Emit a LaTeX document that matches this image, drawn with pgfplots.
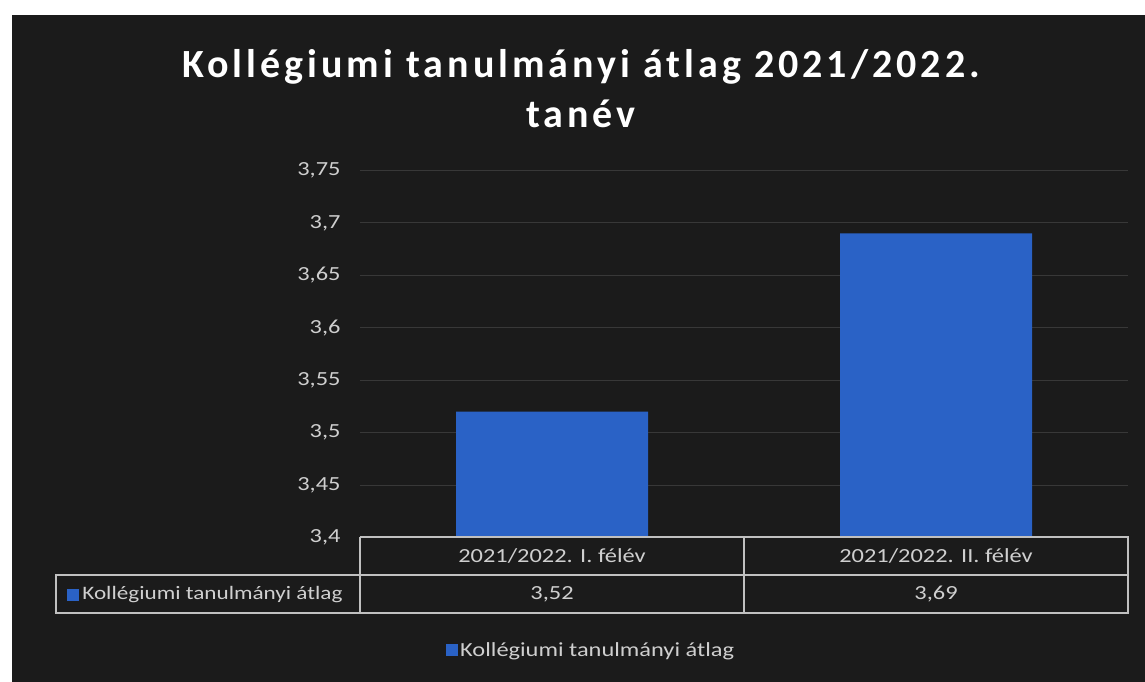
\documentclass[border=0pt]{standalone}
\usepackage{pgfplots}
\pgfplotsset{compat=1.18}
\usepackage{fontspec}
\setmainfont{Carlito}[FakeStretch=1.22]
\newfontfamily\titlefont{Carlito}[LetterSpace=10]
\definecolor{bg}{HTML}{1B1B1B}
\definecolor{barblue}{RGB}{42,98,198}
\definecolor{txt}{HTML}{CFCFCF}
\definecolor{gridc}{HTML}{383838}
\definecolor{tbl}{HTML}{C0C0C0}
\begin{document}
\begin{tikzpicture}[x=1pt,y=1pt]
\fill[white] (0,0) rectangle (1145,682);
\fill[bg] (12,0) rectangle (1145,667);
\node[anchor=base, text=white, font=\titlefont\bfseries\fontsize{40}{48}\selectfont] at (581,604) {Kollégiumi tanulmányi átlag 2021/2022.};
\node[anchor=base, text=white, font=\titlefont\bfseries\fontsize{40}{48}\selectfont] at (581,554) {tanév};
\begin{axis}[
  at={(360pt,144.5pt)}, anchor=south west,
  scale only axis, width=768pt, height=367pt,
  xmin=-0.5, xmax=1.5, ymin=3.4, ymax=3.75,
  ytick={3.4,3.45,3.5,3.55,3.6,3.65,3.7,3.75},
  axis line style={draw=none}, major tick length=0pt,
  ymajorgrids, grid style={gridc, line width=1pt},
  xtick={0,1}, xticklabels={2021/2022. I. félév, 2021/2022. II. félév},
  xticklabel style={anchor=center, yshift=-18.5pt, text=txt},
  yticklabel style={text=txt, xshift=-16pt},
  tick label style={font=\fontsize{20}{24}\selectfont},
  /pgf/number format/use comma, /pgf/number format/assume math mode=true, /pgf/number format/1000 sep={},
  clip=false,
  legend style={at={(0.301,-0.3065)}, anchor=center, draw=none, fill=none, text=txt, font=\fontsize{20}{24}\selectfont},
]
\addplot[ybar, bar width=192pt, fill=barblue, draw=none,
  legend image code/.code={\fill[barblue] (0pt,-6pt) rectangle (12pt,6pt);}] coordinates {(0,3.52) (1,3.69)};
\addlegendentry{Kollégiumi tanulmányi átlag}
\addplot[draw=none, mark=none, forget plot, nodes near coords, point meta=explicit,
  nodes near coords style={text=txt, anchor=center, font=\fontsize{20}{24}\selectfont}]
  coordinates {(0,3.346) [3.52] (1,3.346) [3.69]};
\end{axis}
\draw[tbl, line width=1.4pt] (360,145) -- (1128,145) -- (1128,69) -- (56,69) -- (56,107) -- (1128,107);
\draw[tbl, line width=1.4pt] (360,145) -- (360,69);
\draw[tbl, line width=1.4pt] (744,145) -- (744,69);
\node[anchor=west, text=txt, font=\fontsize{19}{23}\selectfont, inner sep=0pt] at (67,87) {\textcolor{barblue}{\rule[-1pt]{12pt}{12pt}}\,Kollégiumi tanulmányi átlag};
\end{tikzpicture}
\end{document}
